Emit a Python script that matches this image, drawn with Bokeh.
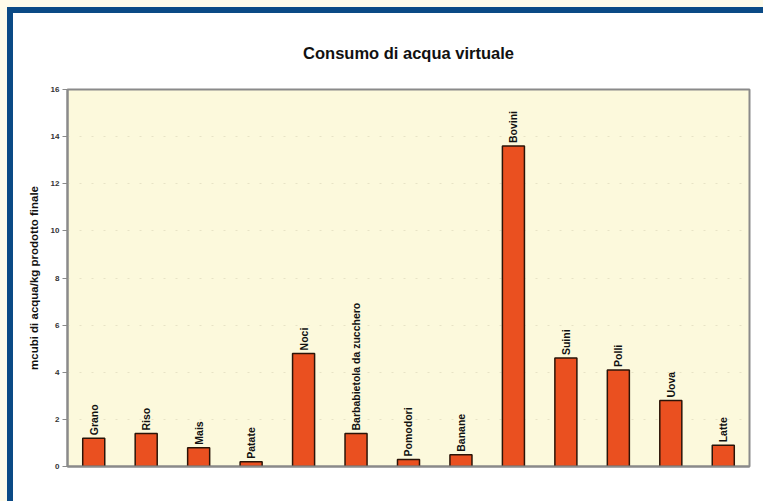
from bokeh.plotting import figure
from bokeh.models import ColumnDataSource, FactorRange, Range1d, FixedTicker, LabelSet
from bokeh.core.properties import value
from bokeh.embed import file_html
from bokeh.resources import INLINE

categories = ["Grano", "Riso", "Mais", "Patate", "Noci", "Barbabietola da zucchero",
              "Pomodori", "Banane", "Bovini", "Suini", "Polli", "Uova", "Latte"]
values = [1.2, 1.4, 0.8, 0.2, 4.8, 1.4, 0.3, 0.5, 13.6, 4.6, 4.1, 2.8, 0.9]
y_ticks = [0, 2, 4, 6, 8, 10, 12, 14, 16]

source = ColumnDataSource(data=dict(cat=categories, val=values))

p = figure(x_range=FactorRange(*categories, range_padding=0),
           y_range=Range1d(0, 16),
           width=756, height=494, output_backend="svg", toolbar_location=None,
           min_border_left=54, min_border_right=20, min_border_top=76, min_border_bottom=41)
p.styles = {"margin-left": "7px", "margin-top": "7px",
            "border-left": "6px solid #0b4a85", "border-top": "6px solid #0b4a85",
            "box-shadow": "0 0 0 7px #fefbea"}

p.title.text = "Consumo di acqua virtuale"
p.title.align = "center"
p.title.text_font = "Liberation Sans"
p.title.text_font_size = "16.5px"
p.title.text_font_style = "bold"
p.title.text_color = "#111111"
p.title.standoff = 56

p.background_fill_color = "#fcf9dc"
p.border_fill_color = "#ffffff"
p.outline_line_color = "#8a8a8a"
p.outline_line_width = 2

p.vbar(x="cat", top="val", width=0.42, source=source,
       fill_color="#ea5020", line_color="#2a1408", line_width=1.5)

labels = LabelSet(x="cat", y="val", text="cat", source=source, angle=1.5708,
                  text_align="left", text_baseline="middle", y_offset=3,
                  text_font=value("Liberation Sans"), text_font_size=value("10.5px"),
                  text_font_style="bold", text_color="#111111")
p.add_layout(labels)

p.yaxis.ticker = FixedTicker(ticks=y_ticks)
p.yaxis.axis_label = "mcubi di acqua/kg prodotto finale"
p.yaxis.axis_label_text_font = "Liberation Sans"
p.yaxis.axis_label_text_font_size = "11.5px"
p.yaxis.axis_label_text_font_style = "bold"
p.yaxis.axis_label_text_color = "#111111"
p.yaxis.axis_label_standoff = 8
p.yaxis.major_label_text_font = "Liberation Sans"
p.yaxis.major_label_text_font_size = "8px"
p.yaxis.major_label_text_font_style = "bold"
p.yaxis.major_label_text_color = "#333333"
p.yaxis.major_label_standoff = 3
p.yaxis.axis_line_color = "#8a8a8a"
p.yaxis.axis_line_width = 2
p.yaxis.major_tick_line_color = "#8a8a8a"
p.yaxis.major_tick_in = 0
p.yaxis.major_tick_out = 5
p.yaxis.minor_tick_line_color = None

p.xaxis.axis_line_color = "#8a8a8a"
p.xaxis.axis_line_width = 2
p.xaxis.major_tick_line_color = None
p.xaxis.minor_tick_line_color = None
p.xaxis.major_label_text_font_size = "0px"
p.xaxis.major_label_text_color = None

p.xgrid.grid_line_color = None
p.ygrid.grid_line_color = "#d8d4b8"
p.ygrid.grid_line_alpha = 0.6
p.ygrid.grid_line_dash = "2 10"

open("out.html", "w").write(file_html(p, INLINE))
